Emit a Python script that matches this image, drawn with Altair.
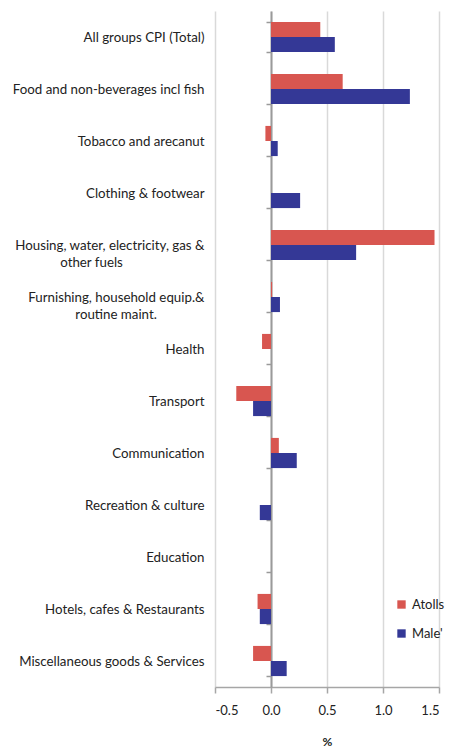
import altair as alt
import pandas as pd

NB = "\u00a0"
ZW = "\u200b"
categories = [
    "All groups CPI (Total)",
    "Food and non-beverages incl fish",
    "Tobacco and arecanut",
    "Clothing & footwear",
    "Housing, water, electricity, gas &|other fuels" + NB * 24 + ZW,
    "Furnishing, household equip.&|routine maint." + NB * 14 + ZW,
    "Health",
    "Transport",
    "Communication",
    "Recreation & culture",
    "Education",
    "Hotels, cafes & Restaurants",
    "Miscellaneous goods & Services",
]
series = ["Atolls", "Male'"]
atolls = [0.44, 0.64, -0.05, 0.0, 1.46, 0.01, -0.08, -0.31, 0.07, 0.0, 0.0, -0.12, -0.16]
male = [0.57, 1.24, 0.06, 0.26, 0.76, 0.08, 0.0, -0.16, 0.23, -0.10, 0.0, -0.10, 0.14]
x_ticks = [-0.5, 0.0, 0.5, 1.0, 1.5]
colors = ["#D85650", "#343896"]

rows = []
for c, a, m in zip(categories, atolls, male):
    rows.append({"category": c, "series": series[0], "value": a})
    rows.append({"category": c, "series": series[1], "value": m})
df = pd.DataFrame(rows)

chart = alt.Chart(df).mark_bar().encode(
    x=alt.X(
        "value:Q",
        scale=alt.Scale(domain=[-0.5, 1.5], nice=False, zero=False),
        axis=alt.Axis(
            values=x_ticks,
            labelExpr="datum.value < 0 ? '-' + format(-datum.value, '.1f') : format(datum.value, '.1f')",
            title="%",
            grid=True, gridColor="#D9D9D9", gridWidth=1.5,
            domainColor="#A6A6A6", domainWidth=1.5,
            tickColor="#A6A6A6", tickSize=6, tickWidth=1.5,
            labelFontSize=13, labelPadding=11, labelColor="#222",
            titleFontSize=12, titleFontWeight="bold", titlePadding=19, titleColor="#222",
        ),
    ),
    y=alt.Y(
        "category:N",
        sort=categories,
        scale=alt.Scale(paddingInner=0.42, paddingOuter=0.21),
        axis=alt.Axis(
            title=None, offset=-56, grid=False,
            domainColor="#9A9A9A", domainWidth=2,
            tickColor="#9A9A9A", tickSize=5, tickWidth=1.5, tickBand="extent",
            labelExpr="split(datum.label, '|')",
            labelPadding=62,
            labelFontSize=13.3, labelLineHeight=17, labelColor="#222", labelLimit=400,
        ),
    ),
    yOffset=alt.YOffset("series:N", sort=series),
    color=alt.Color(
        "series:N",
        scale=alt.Scale(domain=series, range=colors),
        legend=alt.Legend(
            title=None, orient="none", legendX=180, legendY=587,
            symbolType="square", symbolSize=70, symbolStrokeWidth=0,
            labelFontSize=13, labelColor="#222", rowPadding=15, labelOffset=4,
        ),
    ),
).properties(
    width=224, height=676,
    autosize=alt.AutoSizeParams(type="none"),
    padding={"left": 207, "top": 3, "right": 7, "bottom": 61},
).configure(
    font="Lato",
).configure_view(stroke=None)

chart.save("out.html", embed_options={"renderer": "svg", "actions": False})
